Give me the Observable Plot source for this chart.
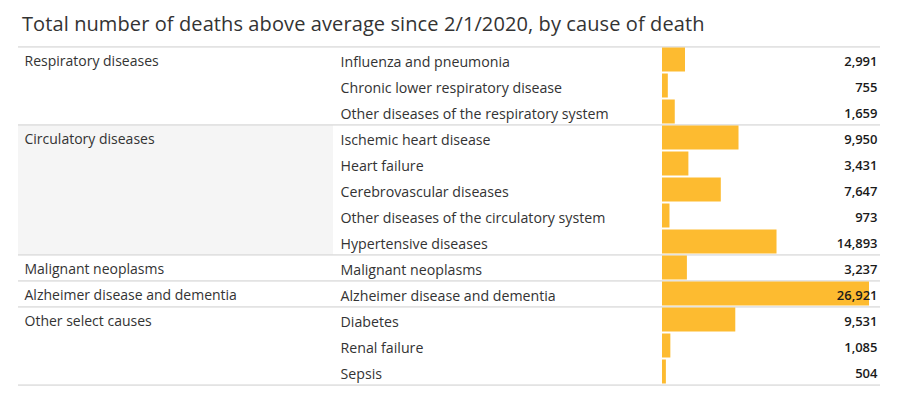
<!DOCTYPE html>
<html>
<head>
<meta charset="utf-8">
<script src="https://cdn.jsdelivr.net/npm/d3@7"></script>
<script src="https://cdn.jsdelivr.net/npm/@observablehq/plot@0.6"></script>
<style>
  html, body { margin: 0; padding: 0; background: #fff; }
  #title { height: 45px; box-sizing: border-box; padding: 14px 0 0 22px; font-family: "Open Sans", sans-serif; font-size: 20px; letter-spacing: 0.1px; line-height: 19px; color: #333; white-space: nowrap; }
  svg { display: block; }
</style>
</head>
<body>
<div id="title">Total number of deaths above average since 2/1/2020, by cause of death</div>
<div id="chart"></div>
<script>
const groups = [
  "Respiratory diseases", "Respiratory diseases", "Respiratory diseases",
  "Circulatory diseases", "Circulatory diseases", "Circulatory diseases", "Circulatory diseases", "Circulatory diseases",
  "Malignant neoplasms",
  "Alzheimer disease and dementia",
  "Other select causes", "Other select causes", "Other select causes"
];
const causes = [
  "Influenza and pneumonia",
  "Chronic lower respiratory disease",
  "Other diseases of the respiratory system",
  "Ischemic heart disease",
  "Heart failure",
  "Cerebrovascular diseases",
  "Other diseases of the circulatory system",
  "Hypertensive diseases",
  "Malignant neoplasms",
  "Alzheimer disease and dementia",
  "Diabetes",
  "Renal failure",
  "Sepsis"
];
const deaths = [2991, 755, 1659, 9950, 3431, 7647, 973, 14893, 3237, 26921, 9531, 1085, 504];

const rows = causes.map((c, i) => ({
  cause: c,
  group: groups[i],
  deaths: deaths[i],
  first: i === 0 || groups[i] !== groups[i - 1],
  last: i === causes.length - 1
}));

const W = 900, H = 349, mTop = 1, mBottom = 8;
const rowH = (H - mTop - mBottom) / causes.length;
const fmt = d3.format(",");

const chart = Plot.plot({
  width: W,
  height: H,
  marginTop: mTop,
  marginBottom: mBottom,
  marginLeft: 0,
  marginRight: 0,
  x: { domain: [0, d3.max(deaths)], range: [662, 869], axis: null },
  y: { domain: causes, padding: 0, axis: null },
  style: { fontFamily: "Open Sans, sans-serif", fontSize: "14px", color: "#333", background: "#fff" },
  marks: [
    Plot.cell(rows.filter(d => d.group === "Circulatory diseases"), {
      y: "cause", fill: "#f5f5f5", insetLeft: 18, insetRight: W - 333
    }),
    Plot.cell(rows.filter(d => d.first), {
      y: "cause", fill: "#dadada", insetLeft: 18, insetRight: 20, insetTop: -0.75, insetBottom: rowH - 0.75
    }),
    Plot.cell(rows.filter(d => d.last), {
      y: "cause", fill: "#dadada", insetLeft: 18, insetRight: 20, insetTop: rowH - 0.75, insetBottom: -0.75
    }),
    Plot.barX(rows, {
      x: "deaths", y: "cause", fill: "#fdbb30", insetTop: 0.5, insetBottom: 1.5
    }),
    Plot.text(rows.filter(d => d.first), {
      y: "cause", text: "group", frameAnchor: "left", textAnchor: "start", dx: 24, dy: 1.5, fill: "#333"
    }),
    Plot.text(rows, {
      y: "cause", text: "cause", frameAnchor: "left", textAnchor: "start", dx: 340, dy: 1.5, fill: "#333", fontSize: 14.2
    }),
    Plot.text(rows, {
      y: "cause", text: d => fmt(d.deaths), frameAnchor: "right", textAnchor: "end", dx: -23, dy: 1.5,
      fill: "#1a1a1a", fontSize: 13, fontWeight: 600
    })
  ]
});
document.getElementById("chart").appendChild(chart);
</script>
</body>
</html>
